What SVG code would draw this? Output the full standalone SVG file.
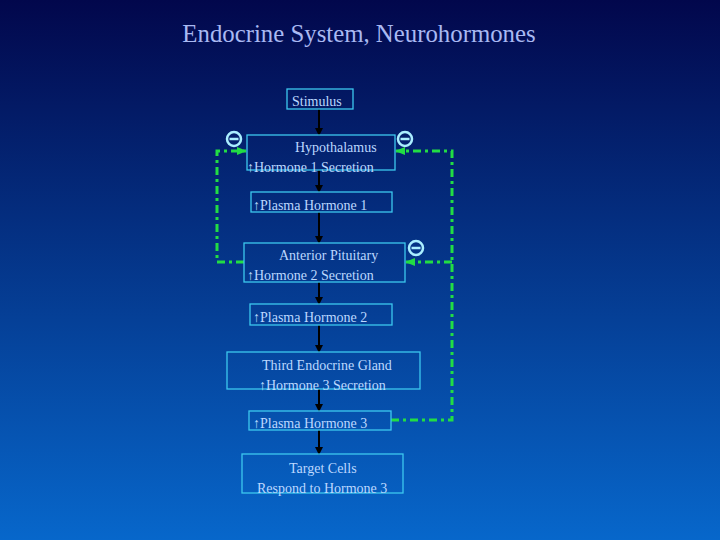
<svg xmlns="http://www.w3.org/2000/svg" width="720" height="540" viewBox="0 0 720 540">
<defs>
<linearGradient id="bg" x1="0" y1="0" x2="0" y2="1">
<stop offset="0" stop-color="#02074c"/>
<stop offset="1" stop-color="#0767cb"/>
</linearGradient>
<marker id="blk" markerWidth="8" markerHeight="8" refX="7" refY="4" orient="auto" markerUnits="userSpaceOnUse">
<path d="M0,0 L8,4 L0,8 Z" fill="#000"/>
</marker>
<marker id="grn" markerWidth="10" markerHeight="10" refX="9" refY="5" orient="auto" markerUnits="userSpaceOnUse">
<path d="M0,1 L10,5 L0,9 Z" fill="#22dd44"/>
</marker>
</defs>
<style>
.box{fill:none;stroke:#3cc8ee;stroke-width:1.3}
.t{font-family:"Liberation Serif","Times New Roman",serif;font-size:14px;fill:#bcd8ff}
.title{font-family:"Liberation Serif","Times New Roman",serif;font-size:24.8px;fill:#a9b9f2}
.arr{stroke:#000;stroke-width:2;fill:none;marker-end:url(#blk)}
.fb{stroke:#22dd44;stroke-width:3;fill:none;stroke-dasharray:8 4 3 4}
.neg{fill:none;stroke:#aaeeff;stroke-width:2.5}
</style>
<rect x="0" y="0" width="720" height="540" fill="url(#bg)"/>
<text class="title" x="359" y="42" text-anchor="middle">Endocrine System, Neurohormones</text>

<g id="connectors">
<line class="arr" x1="319" y1="109" x2="319" y2="135"/>
<line class="arr" x1="319" y1="170" x2="319" y2="192"/>
<line class="arr" x1="319" y1="212" x2="319" y2="243"/>
<line class="arr" x1="319" y1="282" x2="319" y2="304"/>
<line class="arr" x1="319" y1="325" x2="319" y2="352"/>
<line class="arr" x1="319" y1="389" x2="319" y2="411"/>
<line class="arr" x1="319" y1="430" x2="319" y2="454"/>
<path class="fb" d="M244,262 L217,262 L217,151 L246,151" marker-end="url(#grn)"/>
<path class="fb" d="M391,420 L452,420 L452,151 L396,151" marker-end="url(#grn)"/>
<path class="fb" d="M452,262 L406,262" marker-end="url(#grn)"/>
</g>

<g id="neg1"><circle class="neg" cx="234" cy="139" r="7"/><line class="neg" x1="229.5" y1="139" x2="238.5" y2="139"/></g>
<g id="neg2"><circle class="neg" cx="405" cy="139" r="7"/><line class="neg" x1="400.5" y1="139" x2="409.5" y2="139"/></g>
<g id="neg3"><circle class="neg" cx="416" cy="248" r="7"/><line class="neg" x1="411.5" y1="248" x2="420.5" y2="248"/></g>

<g id="stimulus"><rect class="box" x="287" y="89" width="66" height="20"/><text class="t" x="292" y="106">Stimulus</text></g>
<g id="hypothalamus"><rect class="box" x="247" y="135" width="148" height="35"/><text class="t" x="295" y="152">Hypothalamus</text><text class="t" x="247" y="172">↑Hormone 1 Secretion</text></g>
<g id="plasma1"><rect class="box" x="251" y="192" width="141" height="20"/><text class="t" x="253" y="210">↑Plasma Hormone 1</text></g>
<g id="anteriorPituitary"><rect class="box" x="244" y="243" width="161" height="39"/><text class="t" x="279" y="260">Anterior Pituitary</text><text class="t" x="247" y="280">↑Hormone 2 Secretion</text></g>
<g id="plasma2"><rect class="box" x="250" y="304" width="142" height="21"/><text class="t" x="253" y="322">↑Plasma Hormone 2</text></g>
<g id="thirdGland"><rect class="box" x="227" y="352" width="193" height="37"/><text class="t" x="262" y="370">Third Endocrine Gland</text><text class="t" x="259" y="390">↑Hormone 3 Secretion</text></g>
<g id="plasma3"><rect class="box" x="249" y="411" width="142" height="19"/><text class="t" x="253" y="428">↑Plasma Hormone 3</text></g>
<g id="targetCells"><rect class="box" x="242" y="454" width="161" height="39"/><text class="t" x="289" y="473">Target Cells</text><text class="t" x="257" y="493">Respond to Hormone 3</text></g>
</svg>
